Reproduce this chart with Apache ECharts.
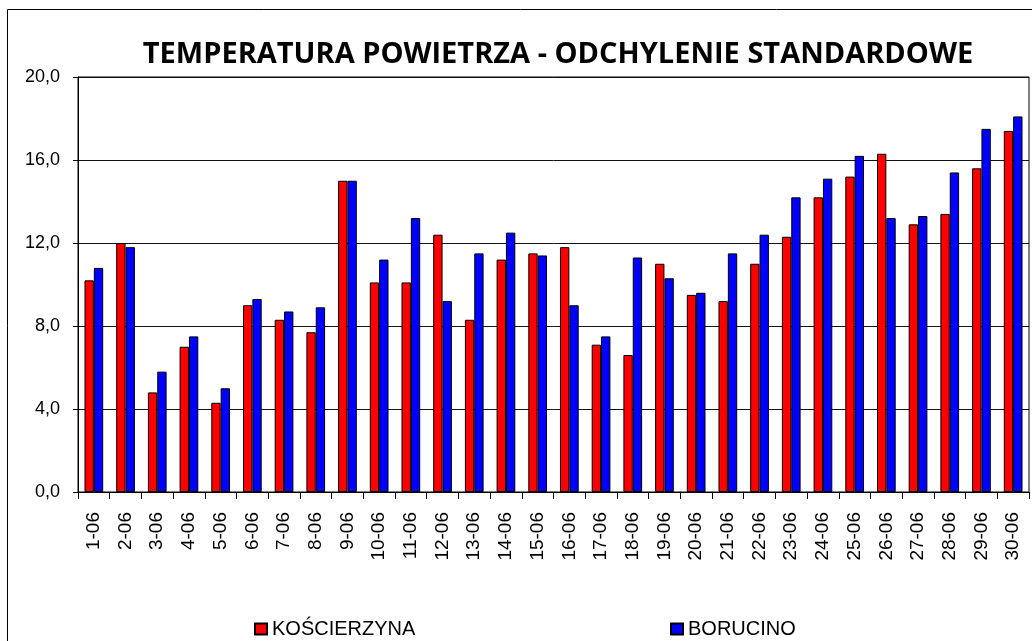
<!DOCTYPE html>
<html>
<head>
<meta charset="utf-8">
<script src="https://cdn.jsdelivr.net/npm/echarts@6/dist/echarts.min.js"></script>
<style>
  html, body { margin: 0; padding: 0; background: #fff; }
  #chart { width: 1032px; height: 641px; }
</style>
</head>
<body>
<div id="chart"></div>
<script>
const days = ['1-06', '2-06', '3-06', '4-06', '5-06', '6-06', '7-06', '8-06', '9-06', '10-06',
  '11-06', '12-06', '13-06', '14-06', '15-06', '16-06', '17-06', '18-06', '19-06', '20-06',
  '21-06', '22-06', '23-06', '24-06', '25-06', '26-06', '27-06', '28-06', '29-06', '30-06']

const koscierzyna = [10.2, 12.0, 4.8, 7.0, 4.3, 9.0, 8.3, 7.7, 15.0, 10.1,
  10.1, 12.4, 8.3, 11.2, 11.5, 11.8, 7.1, 6.6, 11.0, 9.5,
  9.2, 11.0, 12.3, 14.2, 15.2, 16.3, 12.9, 13.4, 15.6, 17.4]

const borucino = [10.8, 11.8, 5.8, 7.5, 5.0, 9.3, 8.7, 8.9, 15.0, 11.2,
  13.2, 9.2, 11.5, 12.5, 11.4, 9.0, 7.5, 11.3, 10.3, 9.6,
  11.5, 12.4, 14.2, 15.1, 16.2, 13.2, 13.3, 15.4, 17.5, 18.1]

const yTicks = [0, 4, 8, 12, 16, 20]

const chart = echarts.init(document.getElementById('chart'))

const labelFont = 'Liberation Sans, Arial, sans-serif'

function barSeries(name, color, data) {
  return {
    name: name,
    type: 'bar',
    data: data,
    barGap: '0%',
    barCategoryGap: '41%',
    itemStyle: {
      color: color,
      borderColor: '#000',
      borderWidth: 1
    },
    emphasis: { disabled: true }
  }
}

chart.setOption({
  animation: false,
  backgroundColor: '#fff',
  title: {
    text: 'TEMPERATURA POWIETRZA - ODCHYLENIE STANDARDOWE',
    left: 558,
    top: 40,
    padding: 0,
    textAlign: 'center',
    textStyle: {
      fontFamily: 'Open Sans, sans-serif',
      fontWeight: 'bold',
      fontSize: 29,
      color: '#000'
    }
  },
  legend: [
    {
      data: ['KOŚCIERZYNA'],
      left: 254,
      top: 619,
      padding: 0,
      icon: 'rect',
      itemWidth: 12,
      itemHeight: 11,
      textStyle: { fontFamily: labelFont, fontSize: 20, color: '#000' }
    },
    {
      data: ['BORUCINO'],
      left: 670,
      top: 619,
      padding: 0,
      icon: 'rect',
      itemWidth: 12,
      itemHeight: 11,
      textStyle: { fontFamily: labelFont, fontSize: 20, color: '#000' }
    }
  ],
  grid: {
    left: 78,
    right: 3,
    top: 77,
    bottom: 149,
    show: true,
    borderColor: '#000',
    borderWidth: 1
  },
  xAxis: {
    type: 'category',
    data: days,
    boundaryGap: true,
    axisLine: { lineStyle: { color: '#000', width: 1 } },
    axisTick: { show: true, interval: 0, length: 7, lineStyle: { color: '#000' } },
    axisLabel: {
      interval: 0,
      rotate: 90,
      margin: 20,
      fontFamily: labelFont,
      fontSize: 19,
      color: '#000'
    }
  },
  yAxis: {
    type: 'value',
    min: yTicks[0],
    max: yTicks[yTicks.length - 1],
    interval: 4,
    axisLine: { show: true, lineStyle: { color: '#000', width: 1 } },
    axisTick: { show: true, length: 5, lineStyle: { color: '#000' } },
    splitLine: { show: true, lineStyle: { color: '#111', width: 1 } },
    axisLabel: {
      margin: 18,
      fontFamily: labelFont,
      fontSize: 18,
      color: '#000',
      formatter: v => v.toFixed(1).replace('.', ',')
    }
  },
  graphic: [
    {
      type: 'rect',
      shape: { x: 7.5, y: 9.5, width: 1200, height: 800 },
      style: { fill: 'none', stroke: '#000', lineWidth: 1 },
      silent: true
    }
  ],
  series: [
    barSeries('KOŚCIERZYNA', '#ff0000', koscierzyna),
    barSeries('BORUCINO', '#0000ff', borucino)
  ]
})

window.addEventListener('resize', () => chart.resize())
</script>
</body>
</html>
